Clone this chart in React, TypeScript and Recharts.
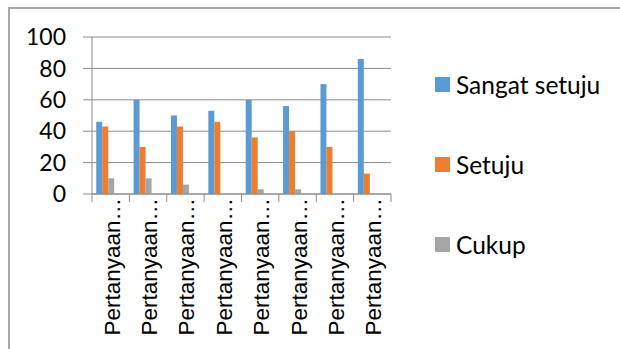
import { Bar, BarChart, CartesianGrid, XAxis, YAxis } from 'recharts';

const categories = [
  'Pertanyaan 1',
  'Pertanyaan 2',
  'Pertanyaan 3',
  'Pertanyaan 4',
  'Pertanyaan 5',
  'Pertanyaan 6',
  'Pertanyaan 7',
  'Pertanyaan 8',
];
const sangatSetuju = [46, 60, 50, 53, 60, 56, 70, 86];
const setuju = [43, 30, 43, 46, 36, 40, 30, 13];
const cukup = [10, 10, 6, 0, 3, 3, 0, 0];
// empty slots the original chart keeps for two more answers
const tidakSetuju = [null, null, null, null, null, null, null, null];
const sangatTidakSetuju = [null, null, null, null, null, null, null, null];
const yTicks = [0, 20, 40, 60, 80, 100];

const series = [
  { key: 'Sangat setuju', color: '#5b9bd5', values: sangatSetuju, legend: true },
  { key: 'Setuju', color: '#ed7d31', values: setuju, legend: true },
  { key: 'Cukup', color: '#a5a5a5', values: cukup, legend: true },
  { key: 'Tidak setuju', color: '#ffc000', values: tidakSetuju, legend: false },
  { key: 'Sangat tidak setuju', color: '#4472c4', values: sangatTidakSetuju, legend: false },
];

const data = categories.map((name, i) => {
  const row: any = { name };
  series.forEach((s) => {
    row[s.key] = s.values[i];
  });
  return row;
});

const GRID = '#8c8c8c';
const LABEL_FONT = 'Lato, "Noto Sans", sans-serif';

const CategoryTick = (props: any) => {
  const { x, y, payload, index } = props;
  const half = payload.offset || 0;
  const label = String(payload.value).slice(0, 10) + '…';
  const tx = x + 9;
  const ty = y - 4;
  return (
    <g>
      <line x1={x - half} x2={x - half} y1={y - 8} y2={y} stroke={GRID} />
      {index === categories.length - 1 && (
        <line x1={x + half} x2={x + half} y1={y - 8} y2={y} stroke={GRID} />
      )}
      <text
        x={tx}
        y={ty}
        transform={`rotate(-90, ${tx}, ${ty})`}
        textAnchor='end'
        fill='#000'
        fontSize={22.5}
        fontFamily='"Liberation Sans", Arial, sans-serif'
      >
        {label}
      </text>
    </g>
  );
};

const App = () => {
  return (
    <div
      style={{
        position: 'absolute',
        left: 0,
        top: 0,
        width: 620,
        height: 349,
        overflow: 'hidden',
        background: '#fff',
      }}
    >
      <div
        style={{
          position: 'absolute',
          left: 8,
          top: 7,
          width: 640,
          height: 360,
          borderTop: '2px solid #a6a6a6',
          borderLeft: '2px solid #a6a6a6',
        }}
      />
      <div style={{ position: 'absolute', left: 0, top: 0 }}>
        <BarChart
          width={620}
          height={349}
          data={data}
          margin={{ top: 37, right: 229, left: 0, bottom: 0 }}
          barCategoryGap={4.2}
          barGap={0}
        >
          <CartesianGrid vertical={false} stroke={GRID} />
          <XAxis
            dataKey='name'
            height={155}
            interval={0}
            tickLine={false}
            tickSize={8}
            tickMargin={0}
            axisLine={{ stroke: GRID }}
            tick={<CategoryTick />}
          />
          <YAxis
            width={92}
            domain={[0, 100]}
            ticks={yTicks}
            tickSize={9}
            tickMargin={17}
            tickLine={{ stroke: GRID }}
            axisLine={{ stroke: GRID }}
            tick={{ fill: '#000', fontSize: 23, fontFamily: LABEL_FONT }}
          />
          {series.map((s) => (
            <Bar
              key={s.key}
              dataKey={s.key}
              fill={s.color}
              isAnimationActive={false}
            />
          ))}
        </BarChart>
      </div>
      <div
        style={{
          position: 'absolute',
          left: 435,
          top: 44,
          fontFamily: LABEL_FONT,
          fontSize: 24.5,
          color: '#000',
        }}
      >
        {series
          .filter((s) => s.legend)
          .map((s) => (
            <div
              key={s.key}
              style={{ display: 'flex', alignItems: 'center', height: 80 }}
            >
              <span
                style={{
                  display: 'inline-block',
                  width: 15,
                  height: 15,
                  background: s.color,
                  marginRight: 6,
                }}
              />
              <span>{s.key}</span>
            </div>
          ))}
      </div>
    </div>
  );
};

export default App;
